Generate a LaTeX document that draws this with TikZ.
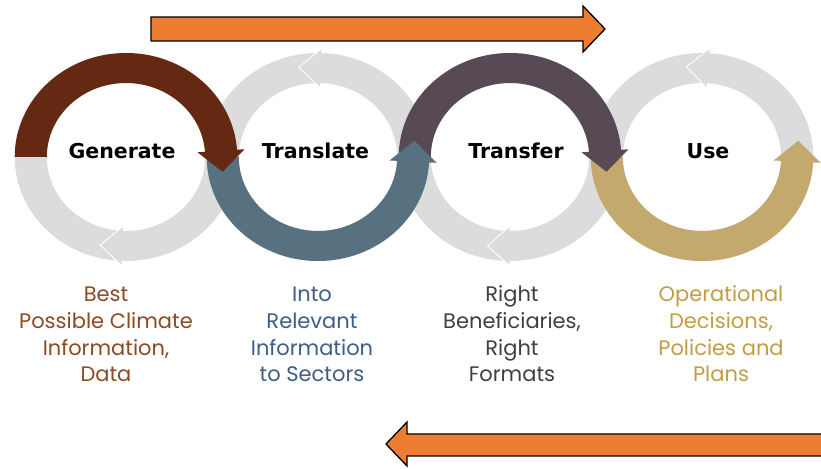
\documentclass[tikz,border=0pt]{standalone}
\usepackage{fontspec}
\setmainfont{Poppins}
\newfontfamily\headfont{DejaVu Sans}
\definecolor{ringgray}{HTML}{DCDCDC}
\definecolor{cbrown}{HTML}{652812}
\definecolor{cblue}{HTML}{577181}
\definecolor{cpurple}{HTML}{584A55}
\definecolor{cgold}{HTML}{C4A96E}
\definecolor{corange}{HTML}{ED7D31}
\definecolor{tbrown}{HTML}{8A4B25}
\definecolor{tblue}{HTML}{3E5E86}
\definecolor{tgray}{HTML}{404040}
\definecolor{tgold}{HTML}{C39D45}
\newcommand\ringarrowcw[2]{%
  \fill[#1] (180:104) arc[start angle=180,end angle=#2,radius=104] -- (#2:111)
    -- ({89*cos(#2)+21*cos(#2-90)},{89*sin(#2)+21*sin(#2-90)})
    -- (#2:67) -- (#2:74) arc[start angle=#2,end angle=180,radius=74] -- cycle;}
\newcommand\ringarrowccw[2]{%
  \fill[#1] (180:104) arc[start angle=180,end angle=#2,radius=104] -- (#2:111)
    -- ({89*cos(#2)+21*cos(#2+90)},{89*sin(#2)+21*sin(#2+90)})
    -- (#2:67) -- (#2:74) arc[start angle=#2,end angle=180,radius=74] -- cycle;}
\newcommand\grayring[2]{% #1 base angle, #2 tip direction angle
  \fill[ringgray, even odd rule] (0,0) circle[radius=104] (0,0) circle[radius=74];
  \filldraw[fill=ringgray, draw=white, line width=0.9, line join=miter]
    (#1:74) -- (#1:69) -- ({89*cos(#1)+21*cos(#2)},{89*sin(#1)+21*sin(#2)})
    -- (#1:109) -- (#1:104);}
\tikzset{
  ringscope/.style={shift={#1}, xscale=1.07},
  headtext/.style={font=\headfont\bfseries\fontsize{20.5}{24}\selectfont, text=black, anchor=base, inner sep=0},
  lowtext/.style={font=\fontsize{21}{26.7}\selectfont, align=center, anchor=base, inner sep=0},
  bigarrow/.style={fill=corange, draw=black, line width=1.3, line join=miter}
}
\begin{document}
\begin{tikzpicture}[x=1pt,y=1pt]
\useasboundingbox (0,0) rectangle (821,468);
\fill[white] (0,0) rectangle (821,468);
% gray rings
\begin{scope}[ringscope={(126,311)}] \grayring{268}{178} \end{scope}
\begin{scope}[ringscope={(318,311)}] \grayring{88}{178} \end{scope}
\begin{scope}[ringscope={(510,311)}] \grayring{270}{180} \end{scope}
\begin{scope}[ringscope={(702,311)}] \grayring{86}{176} \end{scope}
% coloured arcs
\begin{scope}[ringscope={(702,311)}] \ringarrowccw{cgold}{357} \end{scope}
\begin{scope}[ringscope={(510,311)}] \ringarrowcw{cpurple}{4} \end{scope}
\begin{scope}[ringscope={(318,311)}] \ringarrowccw{cblue}{357} \end{scope}
\begin{scope}[ringscope={(126,311)}] \ringarrowcw{cbrown}{4} \end{scope}
% headings
\node[headtext] (gen) at (122,309) {Generate};
\node[headtext] (tra) at (315.5,309) {Translate};
\node[headtext] (trf) at (516,309) {Transfer};
\node[headtext] (use) at (708,309) {Use};
% lower labels (base anchor = last line)
\node[lowtext, text=tbrown] (genlbl) at (106,86) {Best\\Possible Climate\\Information,\\Data};
\node[lowtext, text=tblue] (tralbl) at (312,86) {Into\\Relevant\\Information\\to Sectors};
\node[lowtext, text=tgray] (trflbl) at (512,86) {Right\\Beneficiaries,\\Right\\Formats};
\node[lowtext, text=tgold] (uselbl) at (721,86) {Operational\\Decisions,\\Policies and\\Plans};
% orange arrows
\filldraw[bigarrow] (151,451) -- (583,451) -- (583,462) -- (605,439) -- (583,416) -- (583,427) -- (151,427) -- cycle;
\filldraw[bigarrow] (830,34) -- (407,34) -- (407,46) -- (386,24) -- (407,2) -- (407,12) -- (830,12) -- cycle;
\end{tikzpicture}
\end{document}
